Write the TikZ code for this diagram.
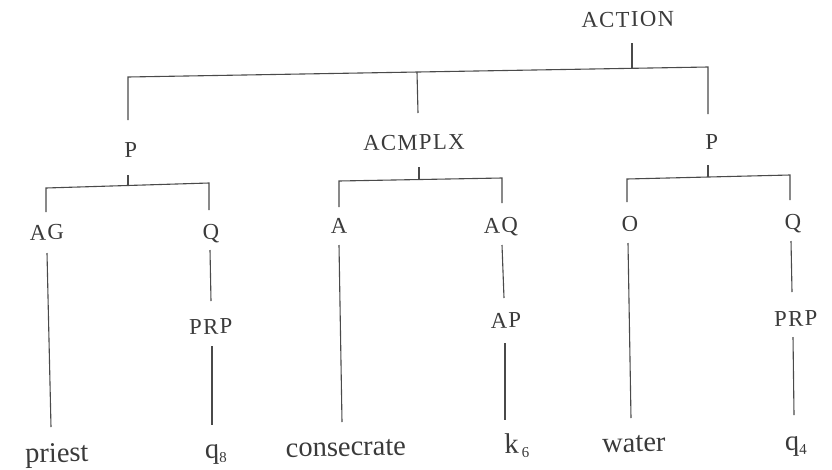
\documentclass[tikz,border=0pt]{standalone}
\usepackage{fontspec}
\setmainfont{Liberation Serif}
\newfontfamily\capsfont[LetterSpace=6]{Liberation Serif}
\definecolor{txt}{HTML}{3A3A3A}
\definecolor{ln}{HTML}{4A4A4A}
\begin{document}
\begin{tikzpicture}[x=1pt,y=-1pt,
  caplabel/.style={anchor=base, inner sep=0pt, text=txt, font=\capsfont\fontsize{22.7}{25}\selectfont, rotate=1},
  lowlabel/.style={anchor=base, inner sep=0pt, text=txt, font=\fontsize{28.5}{30}\selectfont, rotate=1},
  treeline/.style={draw=ln, line width=1.1pt, line join=miter}]
\useasboundingbox (0,0) rectangle (832,469);
\fill[white] (0,0) rectangle (832,469);
% labels
\node[caplabel] (ACTION) at (628,27) {ACTION};
\node[caplabel] (P1) at (131,157) {P};
\node[caplabel] (ACMPLX) at (414,150) {ACMPLX};
\node[caplabel] (P2) at (712,149) {P};
\node[caplabel] (AG) at (47,240) {AG};
\node[caplabel] (Q1) at (211,239) {Q};
\node[caplabel] (A) at (339,233) {A};
\node[caplabel] (AQ) at (501,233) {AQ};
\node[caplabel] (O) at (630,231) {O};
\node[caplabel] (Q2) at (793,229) {Q};
\node[caplabel] (PRP1) at (211,334) {PRP};
\node[caplabel] (AP) at (506,328) {AP};
\node[caplabel] (PRP2) at (796,326) {PRP};
\node[lowlabel] (priest) at (57,462) {priest};
\node[lowlabel] (q8) at (216,458) {q\raisebox{-5pt}{\fontsize{15}{15}\selectfont 8}};
\node[lowlabel] (consecrate) at (346,456) {consecrate};
\node[lowlabel] (k6) at (517,453) {k\hspace{3pt}\raisebox{-5pt}{\fontsize{15}{15}\selectfont 6}};
\node[lowlabel] (water) at (634,452) {water};
\node[lowlabel] (q4) at (796,450) {q\raisebox{-5pt}{\fontsize{15}{15}\selectfont 4}};
% connector end points
\coordinate (ACTION-s) at (632,43);
\coordinate (b0L) at (128,77);
\coordinate (b0M) at (417,72);
\coordinate (b0A) at (632,68.3);
\coordinate (b0R) at (708,67);
\coordinate (P1-n) at (128,120);
\coordinate (ACMPLX-n) at (418,113);
\coordinate (P2-n) at (708,114);
\coordinate (P1-s) at (128,175);
\coordinate (b1L) at (46,188);
\coordinate (b1M) at (128,185.5);
\coordinate (b1R) at (209,183);
\coordinate (AG-n) at (46,212);
\coordinate (Q1-n) at (209,210);
\coordinate (ACMPLX-s) at (419,167);
\coordinate (b2L) at (339,181);
\coordinate (b2M) at (419,179.5);
\coordinate (b2R) at (502,178);
\coordinate (A-n) at (339,207);
\coordinate (AQ-n) at (502,203);
\coordinate (P2-s) at (708,165);
\coordinate (b3L) at (627,179);
\coordinate (b3M) at (708,177);
\coordinate (b3R) at (790,175);
\coordinate (O-n) at (627,202);
\coordinate (Q2-n) at (790,200);
\coordinate (AG-s) at (47,253);
\coordinate (priest-n) at (51,427);
\coordinate (Q1-s) at (210,250);
\coordinate (PRP1-n) at (211,301);
\coordinate (PRP1-s) at (212,346);
\coordinate (q8-n) at (212,425);
\coordinate (A-s) at (339,245);
\coordinate (consecrate-n) at (342,422);
\coordinate (AQ-s) at (502,245);
\coordinate (AP-n) at (504,298);
\coordinate (AP-s) at (505,343);
\coordinate (k6-n) at (505,420);
\coordinate (O-s) at (628,243);
\coordinate (water-n) at (631,418);
\coordinate (Q2-s) at (791,241);
\coordinate (PRP2-n) at (792,292);
\coordinate (PRP2-s) at (793,337);
\coordinate (q4-n) at (794,415);
% connectors
\draw[treeline] (ACTION-s) -- (b0A);
\draw[treeline] (P1-n) -- (b0L) -- (b0R) -- (P2-n);
\draw[treeline] (b0M) -- (ACMPLX-n);
\draw[treeline] (P1-s) -- (b1M);
\draw[treeline] (AG-n) -- (b1L) -- (b1R) -- (Q1-n);
\draw[treeline] (ACMPLX-s) -- (b2M);
\draw[treeline] (A-n) -- (b2L) -- (b2R) -- (AQ-n);
\draw[treeline] (P2-s) -- (b3M);
\draw[treeline] (O-n) -- (b3L) -- (b3R) -- (Q2-n);
\draw[treeline] (AG-s) -- (priest-n);
\draw[treeline] (Q1-s) -- (PRP1-n);
\draw[treeline] (PRP1-s) -- (q8-n);
\draw[treeline] (A-s) -- (consecrate-n);
\draw[treeline] (AQ-s) -- (AP-n);
\draw[treeline] (AP-s) -- (k6-n);
\draw[treeline] (O-s) -- (water-n);
\draw[treeline] (Q2-s) -- (PRP2-n);
\draw[treeline] (PRP2-s) -- (q4-n);
\end{tikzpicture}
\end{document}
